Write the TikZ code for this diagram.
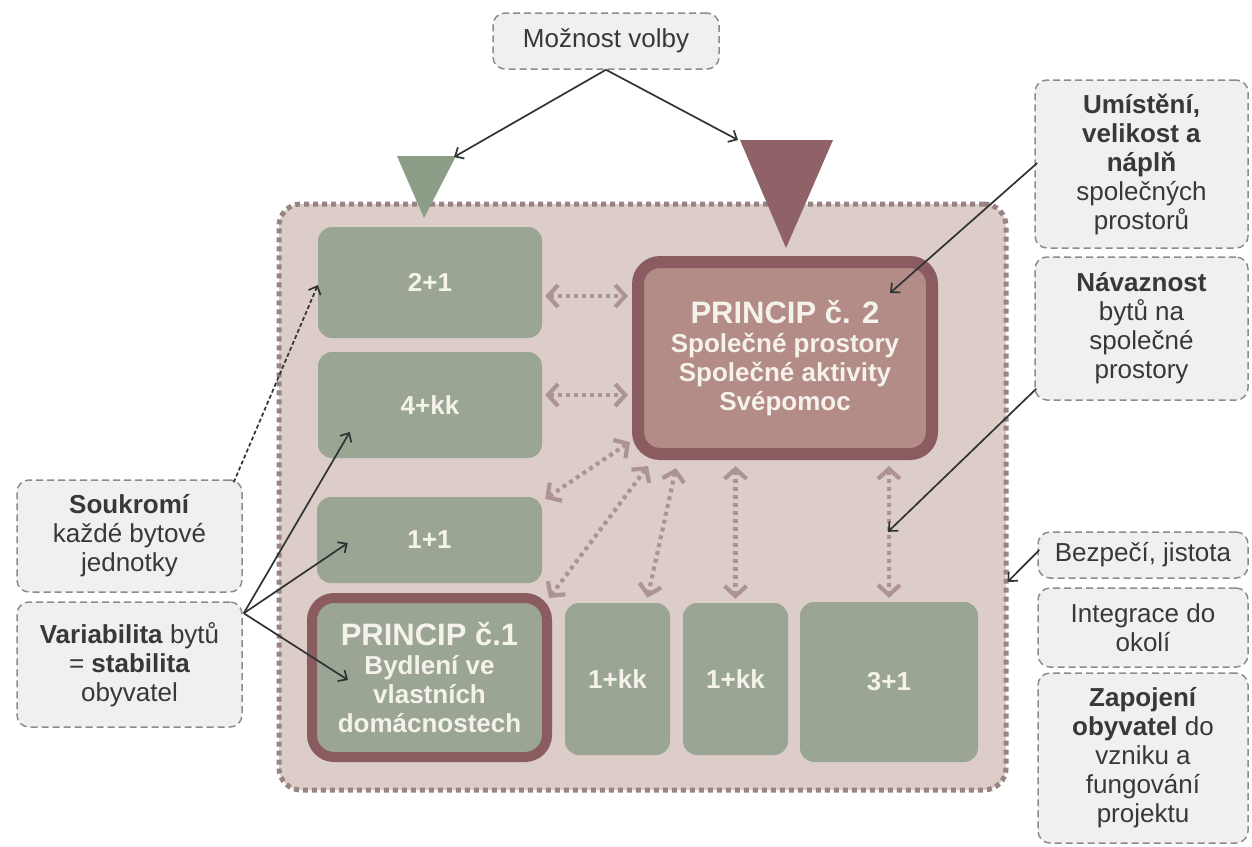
\documentclass[tikz,border=0pt]{standalone}
\usepackage{fontspec}
\setmainfont{Liberation Sans}
\usetikzlibrary{arrows.meta,calc}
\newcommand\fsz[2]{\fontsize{#1}{#2}\selectfont}
\definecolor{contfill}{HTML}{DDCDC9}
\definecolor{contline}{HTML}{9A8383}
\definecolor{grn}{HTML}{9AA593}
\definecolor{grntri}{HTML}{8C9E88}
\definecolor{mauve}{HTML}{B38B87}
\definecolor{mauveline}{HTML}{8A5C60}
\definecolor{mauvetri}{HTML}{8E6266}
\definecolor{darrc}{HTML}{AD9492}
\definecolor{boxfill}{HTML}{F0F0F0}
\definecolor{boxline}{HTML}{8C8C8C}
\definecolor{txtdark}{HTML}{383838}
\definecolor{txtlight}{HTML}{F4F2EA}
\definecolor{blk}{HTML}{2E3333}
\tikzset{
  graybox/.style={draw=boxline, fill=boxfill, line width=1.5pt, dash pattern=on 7pt off 4pt,
    rounded corners=12pt, align=center, text=txtdark, font=\fsz{26}{29}, inner sep=0pt},
  greenbox/.style={fill=grn, rounded corners=14pt, align=center, text=txtlight,
    font=\bfseries\fsz{26}{29}, inner sep=0pt},
  princip/.style={fill=#1, draw=mauveline, line width=10pt, rounded corners=22pt, align=center,
    text=txtlight, font=\bfseries\fsz{26}{29}, inner sep=0pt},
  contbox/.style={fill=contfill, draw=contline, line width=5pt, dash pattern=on 5pt off 4pt,
    rounded corners=22pt, inner sep=0pt},
  darr/.style={draw=darrc, line width=4.2pt, dash pattern=on 4pt off 4pt,
    arrows={Straight Barb[length=10pt,width=22pt]-Straight Barb[length=10pt,width=22pt]}},
  barr/.style={draw=blk, line width=1.7pt, arrows={-Straight Barb[length=7pt,width=13pt]}},
}
\begin{document}
\begin{tikzpicture}[x=1pt,y=-1pt]
\useasboundingbox (0,0) rectangle (1252,846);
\fill[white] (0,0) rectangle (1252,846);

% container
\node[contbox, minimum width=727pt, minimum height=586pt] (cont) at (642.5,497) {};

% triangles
\coordinate (gtr) at (456,156);
\coordinate (mtl) at (740,140);
\fill[grntri] (397,156) -- (gtr) -- (424,218) -- cycle;
\fill[mauvetri] (mtl) -- (833,140) -- (786,248) -- cycle;

% green boxes
\node[greenbox, minimum width=224pt, minimum height=111pt] (b21) at (430,282.5) {2+1};
\node[greenbox, minimum width=224pt, minimum height=106pt] (b4kk) at (430,405) {4+kk};
\node[greenbox, minimum width=225pt, minimum height=86pt] (b11) at (429.5,540) {1+1};
\node[greenbox, minimum width=105pt, minimum height=152pt] (k1) at (617.5,679) {1+kk};
\node[greenbox, minimum width=105pt, minimum height=152pt] (k2) at (735.5,679) {1+kk};
\node[greenbox, minimum width=178pt, minimum height=160pt] (b31) at (889,682) {3+1};

% principles
\node[princip=grn, minimum width=235pt, minimum height=159pt] (P1) at (429.5,677.5)
  {{\fsz{31}{35}PRINCIP č.1}\\Bydlení ve\\vlastních\\domácnostech};
\node[princip=mauve, line width=12pt, minimum width=294pt, minimum height=192pt] (P2) at (785,358)
  {{\fsz{31}{34}PRINCIP č. 2}\\Společné prostory\\Společné aktivity\\Svépomoc};

% gray boxes
\node[graybox, minimum width=226pt, minimum height=56pt] (mozn) at (606,41) {Možnost volby};
\node[graybox, minimum width=225pt, minimum height=112pt] (souk) at (129.5,536)
  {\textbf{Soukromí}\\každé bytové\\jednotky};
\node[graybox, minimum width=225pt, minimum height=125pt] (vari) at (129.5,664.5)
  {\textbf{Variabilita} bytů\\= \textbf{stabilita}\\obyvatel};
\node[graybox, minimum width=213pt, minimum height=168pt] (umis) at (1141.5,164)
  {\textbf{Umístění,}\\\textbf{velikost a}\\\textbf{náplň}\\společných\\prostorů};
\node[graybox, minimum width=213pt, minimum height=143pt] (nava) at (1141.5,328.5)
  {\textbf{Návaznost}\\bytů na\\společné\\prostory};
\node[graybox, minimum width=210pt, minimum height=46pt] (bezp) at (1143,555) {Bezpečí, jistota};
\node[graybox, minimum width=210pt, minimum height=79pt] (inte) at (1143,627.5) {Integrace do\\okolí};
\node[graybox, minimum width=210pt, minimum height=170pt] (zapo) at (1143,758)
  {\textbf{Zapojení}\\\textbf{obyvatel} do\\vzniku a\\fungování\\projektu};

% dotted double arrows
\draw[darr] ($(b21.east)+(3,13.5)$) -- ($(P2.west)+(-4,-62)$);
\draw[darr] ($(b4kk.east)+(3,-10)$) -- ($(P2.west)+(-4,37)$);
\draw[darr] ($(P2.south west)+(-2,-18)$) -- ($(b11.north east)+(3,2)$);
\draw[darr] ($(P2.south west)+(16,6)$) -- ($(P1.north east)+(-3,5)$);
\draw[darr] ($(P2.south west)+(44,8)$) -- ($(k1.north)+(30,-5)$);
\draw[darr] ($(P2.south -| k2.north)+(0,6)$) -- ($(k2.north)+(0,-4)$);
\draw[darr] ($(P2.south -| b31.north)+(0,6)$) -- ($(b31.north)+(0,-4)$);

% black arrows
\coordinate (vsrc) at ($(vari.north east)+(1,12)$);
\draw[barr, dash pattern=on 4pt off 2.5pt] ($(souk.north east)+(-9,3)$) -- ($(b21.west)+(0,2.5)$);
\draw[barr] (vsrc) -- ($(b4kk.west)+(32,27)$);
\draw[barr] (vsrc) -- ($(b11.west)+(31,3)$);
\draw[barr] (vsrc) -- ($(P1.west)+(41,2.5)$);
\draw[barr] ($(umis.west)+(3,-1)$) -- ($(P2.center)+(105,-65)$);
\draw[barr] ($(nava.south west)+(2,-12)$) -- ($(b31.north)+(-1,-70)$);
\draw[barr] ($(bezp.west)+(2,-5)$) -- ($(cont.east)+(-1,85)$);
\draw[barr] (mozn.south) -- ($(gtr)+(-2,1)$);
\draw[barr] (mozn.south) -- ($(mtl)+(-2,0)$);
\end{tikzpicture}
\end{document}
